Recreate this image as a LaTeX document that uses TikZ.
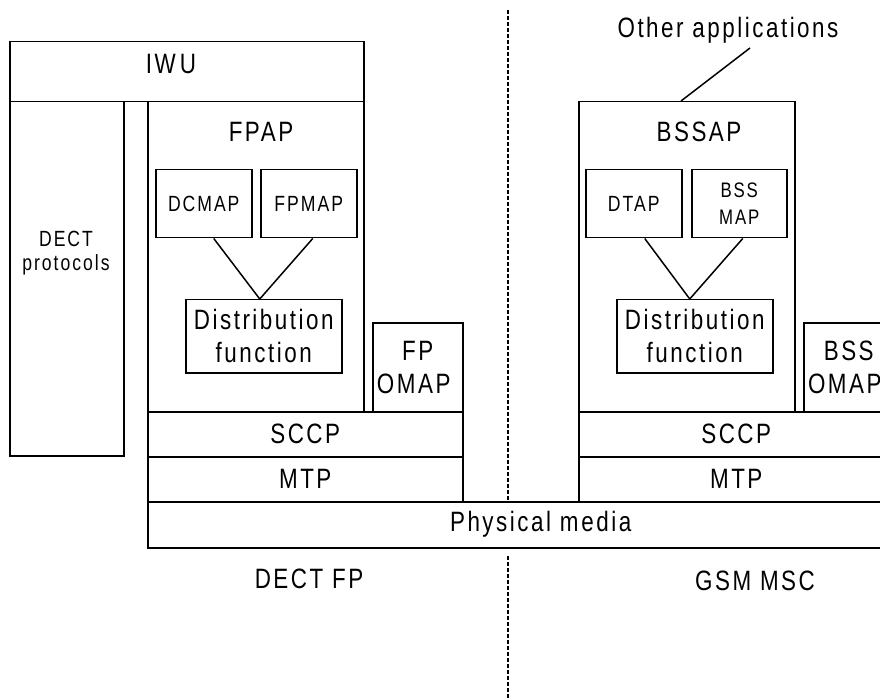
\documentclass[tikz,border=0pt]{standalone}
\usepackage{fontspec}
\setmainfont{Liberation Sans}[FakeStretch=0.8,LetterSpace=9]
\usetikzlibrary{positioning}

\begin{document}
\begin{tikzpicture}[x=1pt,y=-1pt]
  \tikzstyle{box} = [draw, line width=1.5pt, rectangle, inner sep=0pt, anchor=north west, align=center, font=\fontsize{28}{33}\selectfont]
  \tikzstyle{small} = [font=\fontsize{22}{24}\selectfont]
  \tikzstyle{lbl} = [inner sep=0pt, anchor=base, font=\fontsize{28}{33}\selectfont]
  \tikzstyle{link} = [line width=1.5pt]
  \tikzstyle{divider} = [line width=1.3pt, dash pattern=on 4pt off 2pt]

  \useasboundingbox (0,0) rectangle (880,700);
  \clip (0,0) rectangle (880,700);

  % DECT FP side
  \node[box, minimum width=354pt, minimum height=60pt] (iwu) at (9,41) {};
  \node[lbl] (iwulbl) at (171,74) {IW\kern4pt U};
  \node[box, minimum width=114pt, minimum height=354pt] (dect) at (9,101) {};
  \node[small, align=center, inner sep=0pt] (dectlbl) at (66,253) {DECT\\protocols};
  \node[box, minimum width=216pt, minimum height=310pt] (fpap) at (147,101) {};
  \node[lbl] (fpaplbl) at (261,142) {FPAP};
  \node[box, small, minimum width=96pt, minimum height=68pt] (dcmap) at (155,169) {DCMAP};
  \node[box, small, minimum width=96pt, minimum height=68pt] (fpmap) at (260,169) {FPMAP};
  \node[box, minimum width=156pt, minimum height=73pt] (distL) at (185,299) {Distribution\\function};
  \node[box, minimum width=90pt, minimum height=89pt] (fpomap) at (372,322) {FP\\OMAP\kern8pt};
  \node[box, minimum width=315pt, minimum height=45pt] (sccpL) at (147,411) {SCCP};
  \node[box, minimum width=315pt, minimum height=45pt] (mtpL) at (147,456) {MTP};
  \node[box, minimum width=786pt, minimum height=46pt] (phys) at (147,501) {Physical m\kern3pt edia};
  \node[lbl] (dectfp) at (309,588) {DECT FP};
  \draw[link] ([xshift=10pt]dcmap.south) -- ([xshift=-4pt]distL.north) -- ([xshift=4pt]fpmap.south);

  % GSM MSC side
  \node[box, minimum width=216pt, minimum height=310pt] (bssap) at (578,101) {};
  \node[lbl] (bssaplbl) at (699,142) {BSSAP};
  \node[box, small, minimum width=96pt, minimum height=68pt] (dtap) at (585,169) {DTAP};
  \node[box, font=\fontsize{21}{27}\selectfont, minimum width=95pt, minimum height=68pt] (bssmap) at (691,169) {BSS\\MAP};
  \node[box, minimum width=156pt, minimum height=73pt] (distR) at (616,299) {Distribution\\function};
  \node[box, minimum width=90pt, minimum height=89pt] (bssomap) at (803,322) {BSS\\OMAP\kern8pt};
  \node[box, minimum width=315pt, minimum height=45pt] (sccpR) at (578,411) {SCCP};
  \node[box, minimum width=315pt, minimum height=45pt] (mtpR) at (578,456) {MTP};
  \node[lbl] (gsmmsc) at (755,590) {GSM MSC};
  \draw[link] ([xshift=11pt]dtap.south) -- ([xshift=-5pt]distR.north) -- ([xshift=3.5pt]bssmap.south);

  \node[lbl] (other) at (728,38) {Other applications};
  \coordinate (otherend) at (750,48);
  \draw[link] ([xshift=103pt]bssap.north west) -- (otherend);

  % border between the two sides
  \coordinate (dtop) at (508,10);
  \coordinate (dbot) at (508,700);
  \draw[divider] (dtop) -- (dtop |- phys.north);
  \draw[divider] ([yshift=-7pt]dbot |- phys.south) -- (dbot);
\end{tikzpicture}
\end{document}
